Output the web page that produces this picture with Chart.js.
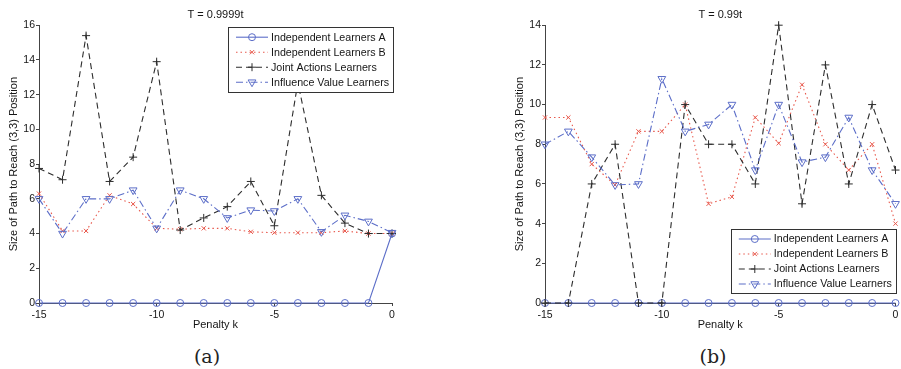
<!DOCTYPE html>
<html>
<head>
<meta charset="utf-8">
<script src="https://cdn.jsdelivr.net/npm/chart.js@4.4.1/dist/chart.umd.min.js"></script>
<style>
  html, body { margin: 0; padding: 0; background: #fff; }
  body { width: 901px; height: 369px; position: relative; overflow: hidden; }
  .panel { position: absolute; top: 0; height: 340px; }
  #panel-a { left: 0; width: 450px; }
  #panel-b { left: 450px; width: 451px; }
  .caption { position: absolute; top: 345px; font-family: "DejaVu Serif", serif; font-size: 19px; color: #222; transform: translateX(-50%); }
</style>
</head>
<body>
<div class="panel" id="panel-a"><canvas id="chart-a"></canvas></div>
<div class="panel" id="panel-b"><canvas id="chart-b"></canvas></div>
<div class="caption" style="left:207px">(a)</div>
<div class="caption" style="left:713px">(b)</div>
<script>
// ── Data ──────────────────────────────────────────────────────────────────────
const penalty = [-15, -14, -13, -12, -11, -10, -9, -8, -7, -6, -5, -4, -3, -2, -1, 0];
const seriesNames = ['Independent Learners A', 'Independent Learners B', 'Joint Actions Learners', 'Influence Value Learners'];

// (a) T = 0.9999t
const aIndepA   = [0, 0, 0, 0, 0, 0, 0, 0, 0, 0, 0, 0, 0, 0, 0, 4];
const aIndepB   = [6.3, 4.15, 4.15, 6.2, 5.7, 4.3, 4.25, 4.3, 4.3, 4.1, 4.05, 4.05, 4.05, 4.15, 4.0, 4.0];
const aJoint    = [7.75, 7.1, 15.4, 7.0, 8.4, 13.9, 4.2, 4.9, 5.55, 7.0, 4.45, 12.7, 6.2, 4.6, 4.0, 4.0];
const aInfluence = [6.0, 4.0, 6.0, 6.0, 6.5, 4.3, 6.5, 6.0, 4.9, 5.35, 5.3, 6.0, 4.1, 5.05, 4.7, 4.05];

// (b) T = 0.99t
const bIndepA   = [0, 0, 0, 0, 0, 0, 0, 0, 0, 0, 0, 0, 0, 0, 0, 0];
const bIndepB   = [9.35, 9.35, 7.0, 5.95, 8.65, 8.65, 10.0, 5.0, 5.35, 9.35, 8.05, 11.0, 8.0, 6.7, 8.0, 4.0];
const bJoint    = [0, 0, 6.0, 8.0, 0, 0, 10.0, 8.0, 8.0, 6.0, 14.0, 5.0, 12.0, 6.0, 10.0, 6.7];
const bInfluence = [8.0, 8.65, 7.35, 5.95, 6.0, 11.3, 8.65, 9.0, 10.0, 6.7, 10.0, 7.1, 7.35, 9.35, 6.7, 5.0];

const yTickStep = 2;
const xTickStep = 5;

// ── Styles ────────────────────────────────────────────────────────────────────
const BLUE = 'rgb(92,110,200)';
const RED  = 'rgb(232,88,76)';
const DARK = 'rgb(45,45,45)';
const TEXT = '#151515';
const FONT = '"Liberation Sans", Arial, sans-serif';

const lineStyles = [
  { color: BLUE, dash: [],             point: 'circle',   rotation: 0,   radius: 3.5 },
  { color: RED,  dash: [1.5, 3],       point: 'crossRot', rotation: 0,   radius: 3 },
  { color: DARK, dash: [6, 4],         point: 'cross',    rotation: 0,   radius: 4 },
  { color: BLUE, dash: [7, 3, 1.5, 3], point: 'triangle', rotation: 180, radius: 4.5 },
];

function toPoints(values) {
  return values.map((v, i) => ({ x: penalty[i], y: v }));
}

function makeDatasets(seriesList) {
  return seriesList.map((values, i) => {
    const s = lineStyles[i];
    return {
      label: seriesNames[i],
      data: toPoints(values),
      borderColor: s.color,
      backgroundColor: 'rgba(0,0,0,0)',
      borderWidth: 1.1,
      borderDash: s.dash,
      pointStyle: s.point,
      pointRotation: s.rotation,
      pointRadius: s.radius,
      pointBorderWidth: 1,
      pointBorderColor: s.color,
      pointBackgroundColor: 'rgba(0,0,0,0)',
      tension: 0,
      clip: false,
      order: 4 - i,
    };
  });
}

// ── MATLAB-style legend (line + marker samples) ───────────────────────────────
const matlabLegend = {
  id: 'matlabLegend',
  afterDatasetsDraw(chart, args, opts) {
    const { ctx, chartArea } = chart;
    const w = opts.width, h = opts.height;
    const left = chartArea.right - w + opts.dx;
    const top = opts.corner === 'ne' ? chartArea.top + opts.dy : chartArea.bottom - h + opts.dy;
    ctx.save();
    ctx.fillStyle = '#fff';
    ctx.fillRect(left, top, w, h);
    ctx.strokeStyle = '#333';
    ctx.lineWidth = 1;
    ctx.setLineDash([]);
    ctx.strokeRect(Math.round(left) + 0.5, Math.round(top) + 0.5, w, h);
    ctx.font = '10.7px ' + FONT;
    ctx.textBaseline = 'middle';
    chart.data.datasets
      .slice()
      .sort((a, b) => seriesNames.indexOf(a.label) - seriesNames.indexOf(b.label))
      .forEach((ds, i) => {
        const y = top + 10 + i * 15;
        ctx.strokeStyle = ds.borderColor;
        ctx.lineWidth = 1.1;
        ctx.setLineDash(ds.borderDash);
        ctx.beginPath();
        ctx.moveTo(left + 8, y);
        ctx.lineTo(left + 40, y);
        ctx.stroke();
        ctx.setLineDash([]);
        ctx.lineWidth = 1;
        ctx.fillStyle = 'rgba(0,0,0,0)';
        Chart.helpers.drawPoint(ctx, {
          pointStyle: ds.pointStyle, rotation: ds.pointRotation,
          radius: ds.pointRadius, borderWidth: 1,
        }, left + 24, y);
        ctx.fillStyle = TEXT;
        ctx.fillText(ds.label, left + 43, y + 0.5);
      });
    ctx.restore();
  },
};

// ── Chart factory ─────────────────────────────────────────────────────────────
function makeChart(canvasId, title, seriesList, yMax, pad, legendOpts) {
  return new Chart(document.getElementById(canvasId), {
    type: 'line',
    data: { datasets: makeDatasets(seriesList) },
    options: {
      responsive: true,
      maintainAspectRatio: false,
      animation: false,
      layout: { padding: pad },
      plugins: {
        legend: { display: false },
        tooltip: { enabled: false },
        title: {
          display: true, text: title, fullSize: false, color: TEXT,
          font: { family: FONT, size: 11, weight: 'normal', lineHeight: 1.2 },
          padding: { top: 8, bottom: 4 },
        },
        matlabLegend: legendOpts,
      },
      scales: {
        x: {
          type: 'linear', min: -15, max: 0,
          ticks: { stepSize: xTickStep, padding: 3, color: TEXT, font: { family: FONT, size: 10.5 } },
          grid: { display: true, drawOnChartArea: false, drawTicks: true, tickLength: 3, color: '#444' },
          border: { display: true, color: '#444', width: 1 },
          title: { display: true, text: 'Penalty k', color: TEXT,
                   font: { family: FONT, size: 11, lineHeight: 1.2 }, padding: { top: 0, bottom: 1.5 } },
          afterFit: s => { s.height = 30; s.paddingLeft = 0; s.paddingRight = 0; },
        },
        y: {
          type: 'linear', min: 0, max: yMax,
          ticks: { stepSize: yTickStep, padding: 1, color: TEXT, font: { family: FONT, size: 10.5 } },
          grid: { display: true, drawOnChartArea: false, drawTicks: true, tickLength: 3, color: '#444' },
          border: { display: true, color: '#444', width: 1 },
          title: { display: true, text: 'Size of Path to Reach (3,3) Position', color: TEXT,
                   font: { family: FONT, size: 11, lineHeight: 1.2 }, padding: { top: 7.5, bottom: 0 } },
          afterFit: s => { s.width = 39; s.paddingTop = 0; s.paddingBottom = 0; },
        },
      },
    },
    plugins: [matlabLegend],
  });
}

makeChart('chart-a', 'T = 0.9999t', [aIndepA, aIndepB, aJoint, aInfluence], 16,
  { left: 0, right: 58, top: 0, bottom: 7 },
  { corner: 'ne', width: 165, height: 65, dx: 1, dy: 2 });

makeChart('chart-b', 'T = 0.99t', [bIndepA, bIndepB, bJoint, bInfluence], 14,
  { left: 56, right: 3.3, top: 0, bottom: 7 },
  { corner: 'se', width: 165, height: 64, dx: 0.3, dy: -10 });
</script>
</body>
</html>
